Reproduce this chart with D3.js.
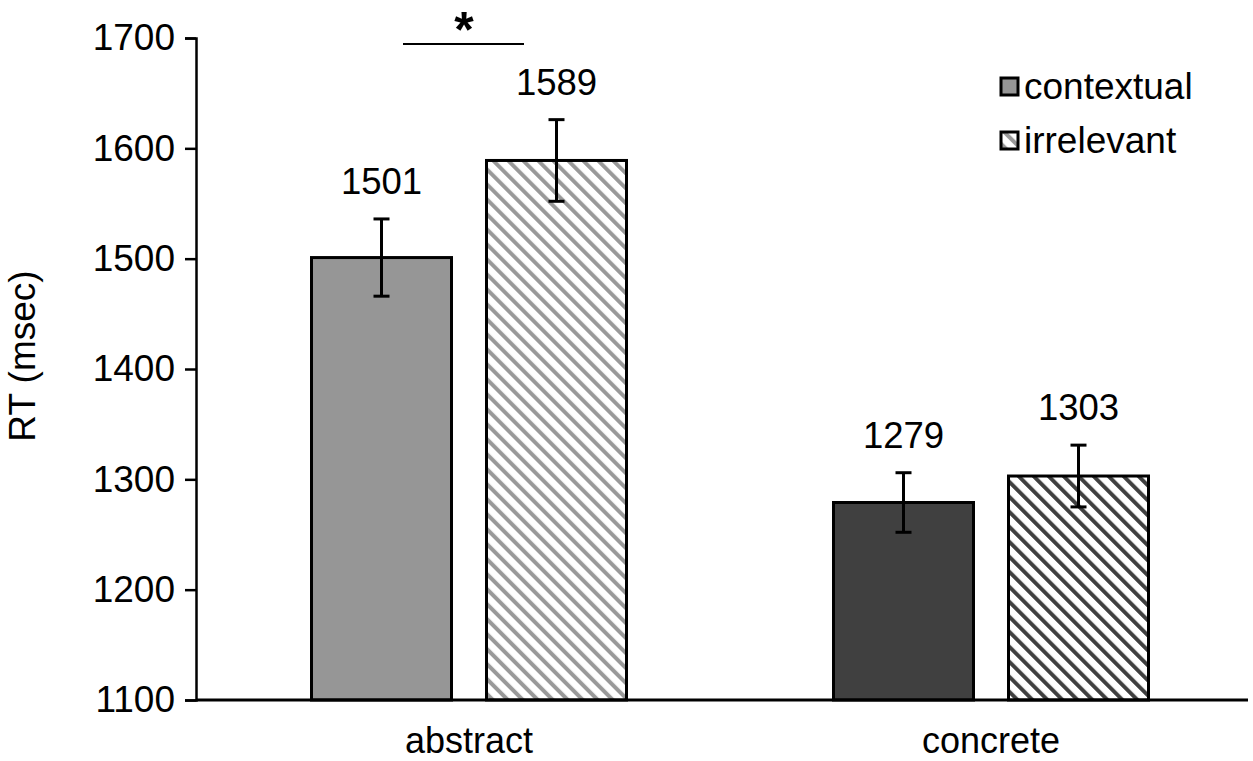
<!DOCTYPE html>
<html><head><meta charset="utf-8">
<script src="https://cdn.jsdelivr.net/npm/d3@7"></script>
<style>body{margin:0;background:#fff}svg{display:block}</style>
</head><body>
<script>
const categories = ["abstract", "concrete"];
const series = ["contextual", "irrelevant"];
const contextualValues = [1501, 1279];
const irrelevantValues = [1589, 1303];
const contextualErrors = [35, 27];
const irrelevantErrors = [37, 28];
const yTicks = [1100, 1200, 1300, 1400, 1500, 1600, 1700];
const yLabel = "RT (msec)";

const W = 1253, H = 761;
const font = "Arial, 'Liberation Sans', sans-serif";
const svg = d3.select("body").append("svg").attr("width", W).attr("height", H);

const y = d3.scaleLinear().domain([1100, 1700]).range([700, 38]);
const x0 = d3.scaleBand().domain(categories).range([208, 1252]).paddingInner(0).paddingOuter(0);
const x1 = d3.scaleBand().domain(series).range([0, 315]).paddingInner(0.2).paddingOuter(0);

const defs = svg.append("defs");
function stripe(id, color) {
  const p = defs.append("pattern").attr("id", id).attr("patternUnits", "userSpaceOnUse")
    .attr("width", 10.6).attr("height", 10.6).attr("patternTransform", "rotate(-45)");
  p.append("rect").attr("width", 10.6).attr("height", 10.6).attr("fill", "#fff");
  p.append("rect").attr("x", 0).attr("width", 4).attr("height", 10.6).attr("fill", color);
}
stripe("s0", "#999999");
stripe("s1", "#404040");

const fills = [["#969696", "url(#s0)"], ["#404040", "url(#s1)"]];

const data = [];
categories.forEach((c, i) => {
  data.push({cat: c, ser: "contextual", v: contextualValues[i], e: contextualErrors[i], fill: fills[i][0]});
  data.push({cat: c, ser: "irrelevant", v: irrelevantValues[i], e: irrelevantErrors[i], fill: fills[i][1]});
});

function bx(d) {
  const center = x0(d.cat) + x0.bandwidth() / 2;
  return center - 315 / 2 + x1(d.ser);
}

svg.selectAll("rect.bar").data(data).join("rect").attr("class", "bar")
  .attr("x", bx).attr("width", x1.bandwidth())
  .attr("y", d => y(d.v)).attr("height", d => y(1100) - y(d.v))
  .attr("fill", d => d.fill).attr("stroke", "#000").attr("stroke-width", 3);

// error bars
const eg = svg.append("g").attr("stroke", "#000").attr("stroke-width", 3);
data.forEach(d => {
  const cx = bx(d) + x1.bandwidth() / 2;
  eg.append("line").attr("x1", cx).attr("x2", cx).attr("y1", y(d.v + d.e)).attr("y2", y(d.v - d.e));
  eg.append("line").attr("x1", cx - 8).attr("x2", cx + 8).attr("y1", y(d.v + d.e)).attr("y2", y(d.v + d.e));
  eg.append("line").attr("x1", cx - 8).attr("x2", cx + 8).attr("y1", y(d.v - d.e)).attr("y2", y(d.v - d.e));
  svg.append("text").attr("x", cx).attr("y", y(d.v + d.e) - 25)
    .attr("text-anchor", "middle").attr("font-family", font).attr("font-size", 36.5).attr("fill", "#000")
    .text(d.v);
});

// axes
const yAxis = svg.append("g").attr("transform", "translate(196,0)")
  .call(d3.axisLeft(y).tickValues(yTicks).tickSize(11).tickPadding(10).tickFormat(d3.format("d")));
yAxis.select(".domain").attr("stroke", "#000").attr("stroke-width", 2.5);
yAxis.selectAll(".tick line").attr("stroke", "#000").attr("stroke-width", 2.5);
yAxis.selectAll(".tick text").attr("font-family", font).attr("font-size", 37).attr("fill", "#000");

svg.append("line").attr("x1", 196).attr("x2", 1248).attr("y1", y(1100)).attr("y2", y(1100))
  .attr("stroke", "#000").attr("stroke-width", 3);

svg.selectAll("text.cat").data(categories).join("text").attr("class", "cat")
  .attr("x", d => x0(d) + x0.bandwidth() / 2).attr("y", 753)
  .attr("text-anchor", "middle").attr("font-family", font).attr("font-size", 36).text(d => d);

svg.append("text").attr("transform", "translate(35,356) rotate(-90)")
  .attr("text-anchor", "middle").attr("font-family", font).attr("font-size", 37).text(yLabel);

// significance
svg.append("line").attr("x1", 403).attr("x2", 524).attr("y1", 44).attr("y2", 44)
  .attr("stroke", "#000").attr("stroke-width", 2);
svg.append("text").attr("x", 464).attr("y", 47).attr("text-anchor", "middle")
  .attr("font-family", font).attr("font-size", 50).attr("font-weight", "bold").text("*");

// legend
const lg = svg.append("g");
series.forEach((s, i) => {
  const yy = 86 + i * 54;
  lg.append("rect").attr("x", 1001).attr("y", yy - 8).attr("width", 17).attr("height", 17)
    .attr("fill", i === 0 ? fills[0][0] : fills[0][1]).attr("stroke", "#000").attr("stroke-width", 3);
  lg.append("text").attr("x", 1024).attr("y", yy + 13).attr("font-family", font).attr("font-size", 37).text(s);
});
</script>
</body></html>
